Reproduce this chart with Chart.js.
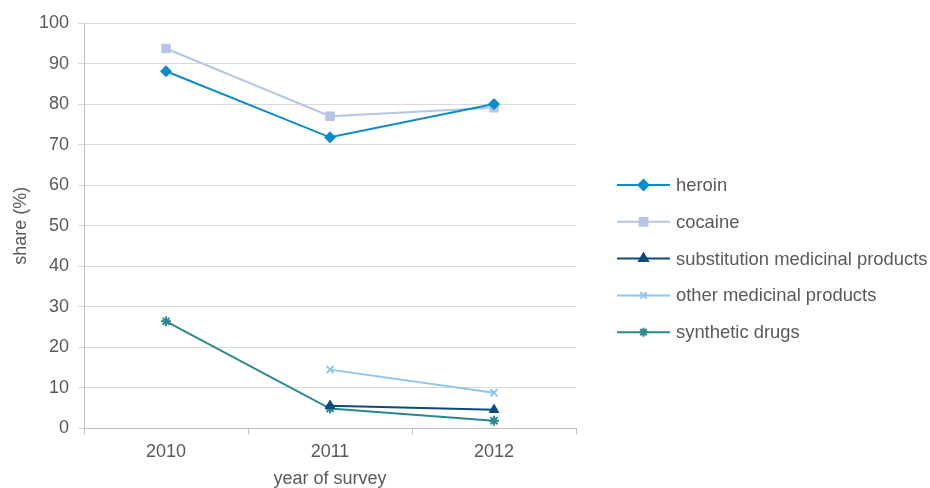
<!DOCTYPE html>
<html>
<head>
<meta charset="utf-8">
<script src="https://cdn.jsdelivr.net/npm/chart.js@4"></script>
<style>
  body { margin: 0; background: #fff; }
  #wrap { width: 930px; height: 488px; position: relative; }
</style>
</head>
<body>
<div id="wrap"><canvas id="myChart"></canvas></div>
<script>
// data
const years = ["2010", "2011", "2012"];
const heroin = [88.1, 71.8, 80.0];
const cocaine = [93.7, 77.0, 79.1];
const substitution = [null, 5.6, 4.6];
const otherMedicinal = [null, 14.5, 8.8];
const synthetic = [26.4, 4.9, 1.9];
const yTicks = [0, 10, 20, 30, 40, 50, 60, 70, 80, 90, 100];

const textColor = '#595959'
const gridColor = '#d9d9d9'
const fontFamily = "'Liberation Sans', Arial, sans-serif"

function makeSet(label, data, color, style, size) {
    return {
        label: label,
        data: data,
        borderColor: color,
        backgroundColor: color,
        borderWidth: 2,
        pointStyle: style,
        pointRadius: size,
        pointHoverRadius: size,
        pointBorderWidth: (style == 'crossRot' || style == 'star') ? 2 : 1,
        tension: 0,
        spanGaps: false
    }
}

const datasets = [
    makeSet('heroin', heroin, '#0b8bd0', 'rectRot', 5.5),
    makeSet('cocaine', cocaine, '#b3c6e6', 'rect', 6),
    makeSet('substitution medicinal products', substitution, '#0e4a7d', 'triangle', 5.5),
    makeSet('other medicinal products', otherMedicinal, '#8cc6f5', 'crossRot', 5),
    makeSet('synthetic drugs', synthetic, '#2b8790', 'star', 5)
]

// legend drawn like the spreadsheet one: line with marker in the middle
const sideLegend = {
    id: 'sideLegend',
    afterDraw(chart) {
        const c = chart.ctx
        const x0 = 617, x1 = 670, top = 185, step = 36.8
        chart.data.datasets.forEach(function(ds, i) {
            const y = top + i * step
            c.save()
            c.strokeStyle = ds.borderColor
            c.lineWidth = 2
            c.beginPath()
            c.moveTo(x0, y)
            c.lineTo(x1, y)
            c.stroke()
            c.fillStyle = ds.backgroundColor
            Chart.helpers.drawPoint(c, {
                pointStyle: ds.pointStyle,
                radius: ds.pointRadius - 0.5,
                borderWidth: ds.pointBorderWidth
            }, (x0 + x1) / 2, y)
            c.fillStyle = textColor
            c.font = '18.4px ' + fontFamily
            c.textBaseline = 'middle'
            c.fillText(ds.label, 676, y + 1)
            c.restore()
        })
    }
}

Chart.defaults.font.family = fontFamily
Chart.defaults.font.size = 18
Chart.defaults.color = textColor

const ctx = document.getElementById('myChart')
const config = {
    type: 'line',
    data: { labels: years, datasets: datasets },
    plugins: [sideLegend],
    options: {
        responsive: true,
        maintainAspectRatio: false,
        animation: false,
        layout: { padding: { top: 23, right: 354, left: 12, bottom: 0 } },
        scales: {
            x: {
                offset: true,
                grid: {
                    offset: true,
                    drawOnChartArea: false,
                    color: '#bfbfbf',
                    tickLength: 6
                },
                border: { color: '#bfbfbf' },
                ticks: { color: textColor, padding: 7 },
                title: { display: true, text: 'year of survey', color: textColor, font: { lineHeight: 1 }, padding: { top: 0, bottom: 0 } }
            },
            y: {
                min: 0,
                max: 100,
                afterBuildTicks: function(axis) {
                    axis.ticks = yTicks.map(function(v) { return { value: v } })
                },
                grid: { color: gridColor, tickLength: 6 },
                border: { color: '#bfbfbf' },
                ticks: { color: textColor, padding: 9 },
                title: { display: true, text: 'share (%)', color: textColor, font: { lineHeight: 1 }, padding: { top: 0, bottom: 0 } }
            }
        },
        plugins: {
            legend: { display: false },
            tooltip: { enabled: false }
        }
    }
}
const myChart = new Chart(ctx, config)
</script>
</body>
</html>
